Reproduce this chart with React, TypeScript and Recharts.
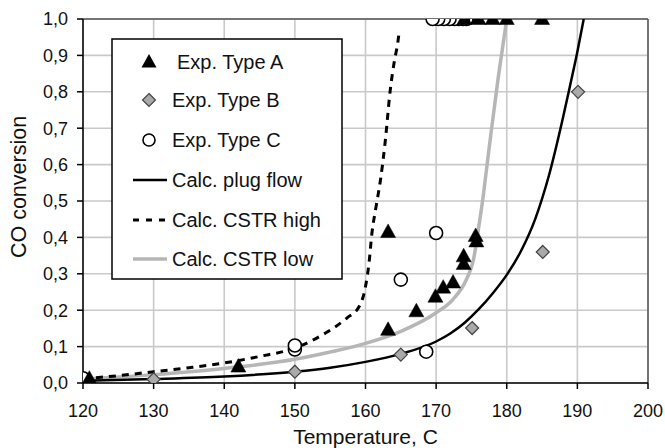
import React from 'react';
import {
  ComposedChart,
  Line,
  Scatter,
  XAxis,
  YAxis,
  CartesianGrid,
  Legend,
  ReferenceLine,
  Label,
} from 'recharts';

const xTicks = [120, 130, 140, 150, 160, 170, 180, 190, 200];
const yTicks = [0, 0.1, 0.2, 0.3, 0.4, 0.5, 0.6, 0.7, 0.8, 0.9, 1.0];

const expTypeA = [
  { t: 120.9, c: 0.012 },
  { t: 142.0, c: 0.045 },
  { t: 163.2, c: 0.146 },
  { t: 163.2, c: 0.415 },
  { t: 167.2, c: 0.197 },
  { t: 169.9, c: 0.237 },
  { t: 171.0, c: 0.262 },
  { t: 172.4, c: 0.276 },
  { t: 173.9, c: 0.327 },
  { t: 173.9, c: 0.348 },
  { t: 175.7, c: 0.389 },
  { t: 175.6, c: 0.404 },
  { t: 174.0, c: 1.0 },
  { t: 176.0, c: 1.0 },
  { t: 178.0, c: 1.0 },
  { t: 180.0, c: 1.0 },
  { t: 185.0, c: 1.0 },
];

const expTypeB = [
  { t: 130.0, c: 0.01 },
  { t: 150.0, c: 0.031 },
  { t: 165.0, c: 0.078 },
  { t: 175.1, c: 0.151 },
  { t: 185.1, c: 0.36 },
  { t: 190.1, c: 0.8 },
];

const expTypeC = [
  { t: 120.0, c: 0.013 },
  { t: 150.0, c: 0.092 },
  { t: 150.0, c: 0.103 },
  { t: 165.0, c: 0.284 },
  { t: 168.6, c: 0.086 },
  { t: 170.0, c: 0.412 },
  { t: 174.3, c: 1.0 },
  { t: 173.8, c: 1.0 },
  { t: 173.2, c: 1.0 },
  { t: 172.6, c: 1.0 },
  { t: 171.9, c: 1.0 },
  { t: 171.1, c: 1.0 },
  { t: 170.3, c: 1.0 },
  { t: 169.5, c: 1.0 },
];

const calcPlugFlow = [
  { t: 120, c: 0.006 },
  { t: 130, c: 0.011 },
  { t: 140, c: 0.018 },
  { t: 150, c: 0.031 },
  { t: 155, c: 0.042 },
  { t: 160, c: 0.058 },
  { t: 165, c: 0.08 },
  { t: 170, c: 0.114 },
  { t: 172, c: 0.136 },
  { t: 174, c: 0.165 },
  { t: 176, c: 0.202 },
  { t: 178, c: 0.246 },
  { t: 180, c: 0.297 },
  { t: 182, c: 0.362 },
  { t: 184, c: 0.449 },
  { t: 186, c: 0.572 },
  { t: 188, c: 0.732 },
  { t: 189, c: 0.82 },
  { t: 190, c: 0.91 },
  { t: 190.9, c: 1.0 },
];

const calcCstrHigh = [
  { t: 120, c: 0.012 },
  { t: 125, c: 0.02 },
  { t: 130, c: 0.031 },
  { t: 135, c: 0.042 },
  { t: 140, c: 0.055 },
  { t: 145, c: 0.073 },
  { t: 150, c: 0.096 },
  { t: 154.4, c: 0.138 },
  { t: 157.4, c: 0.179 },
  { t: 159.1, c: 0.21 },
  { t: 160, c: 0.265 },
  { t: 160.5, c: 0.33 },
  { t: 160.9, c: 0.41 },
  { t: 161.5, c: 0.485 },
  { t: 162.1, c: 0.555 },
  { t: 162.8, c: 0.665 },
  { t: 163.5, c: 0.804 },
  { t: 164.1, c: 0.886 },
  { t: 164.55, c: 0.932 },
  { t: 164.8, c: 0.97 },
];

const calcCstrLow = [
  { t: 120, c: 0.011 },
  { t: 130, c: 0.023 },
  { t: 140, c: 0.04 },
  { t: 150, c: 0.065 },
  { t: 155, c: 0.085 },
  { t: 160, c: 0.109 },
  { t: 165, c: 0.142 },
  { t: 170, c: 0.193 },
  { t: 172.4, c: 0.23 },
  { t: 174.3, c: 0.285 },
  { t: 175.3, c: 0.34 },
  { t: 176.0, c: 0.424 },
  { t: 176.5, c: 0.49 },
  { t: 177.6, c: 0.66 },
  { t: 178.8, c: 0.84 },
  { t: 180.0, c: 1.0 },
];

const legendLabels = [
  'Exp. Type A',
  'Exp. Type B',
  'Exp. Type C',
  'Calc. plug flow',
  'Calc. CSTR high',
  'Calc. CSTR low',
];

const FONT = 'Arial, "Liberation Sans", Helvetica, sans-serif';
const GRAY_FILL = '#a9a9a9';
const LOW_GRAY = '#b6b6b6';

const TriangleShape = (p: any) => {
  const { cx, cy } = p;
  if (cx == null || cy == null) return null;
  return (
    <polygon
      points={`${cx},${cy - 8} ${cx - 7.5},${cy + 5.5} ${cx + 7.5},${cy + 5.5}`}
      fill="#000"
      stroke="#000"
      strokeWidth={0.5}
    />
  );
};

const DiamondShape = (p: any) => {
  const { cx, cy } = p;
  if (cx == null || cy == null) return null;
  const h = 6.5;
  return (
    <polygon
      points={`${cx},${cy - h} ${cx + h},${cy} ${cx},${cy + h} ${cx - h},${cy}`}
      fill={GRAY_FILL}
      stroke="#444"
      strokeWidth={1.2}
    />
  );
};

const CircleShape = (p: any) => {
  const { cx, cy } = p;
  if (cx == null || cy == null) return null;
  return <circle cx={cx} cy={cy} r={6.5} fill="#fff" stroke="#000" strokeWidth={1.6} />;
};

const LegendBox = () => {
  const rows = [24, 62, 102, 142, 182, 221];
  const mx = 38;
  return (
    <svg width={232} height={243} style={{ display: 'block' }}>
      <rect x={1} y={1} width={230} height={240} fill="#fff" stroke="#000" strokeWidth={1.5} />
      <polygon
        points={`${mx},${rows[0] - 8} ${mx - 7.5},${rows[0] + 5.5} ${mx + 7.5},${rows[0] + 5.5}`}
        fill="#000"
      />
      <polygon
        points={`${mx},${rows[1] - 6.5} ${mx + 6.5},${rows[1]} ${mx},${rows[1] + 6.5} ${mx - 6.5},${rows[1]}`}
        fill={GRAY_FILL}
        stroke="#444"
        strokeWidth={1.2}
      />
      <circle cx={mx} cy={rows[2]} r={6} fill="#fff" stroke="#000" strokeWidth={1.6} />
      <line x1={22} x2={56} y1={rows[3]} y2={rows[3]} stroke="#000" strokeWidth={2.5} />
      <line
        x1={22}
        x2={56}
        y1={rows[4]}
        y2={rows[4]}
        stroke="#000"
        strokeWidth={3}
        strokeDasharray="6 7"
      />
      <line x1={22} x2={56} y1={rows[5]} y2={rows[5]} stroke={LOW_GRAY} strokeWidth={3.5} />
      {legendLabels.map((l, i) => (
        <text
          key={l}
          x={i === 0 ? 66 : 61}
          y={rows[i] + 7}
          fontSize={20}
          fontFamily={FONT}
          fill="#111"
        >
          {l}
        </text>
      ))}
    </svg>
  );
};

const fmt = (v: number) => v.toFixed(1).replace('.', ',');

export default function App() {
  return (
    <div style={{ position: 'absolute', left: 0, top: 0, width: 665, height: 448, background: '#fff' }}>
      <ComposedChart
        width={665}
        height={448}
        margin={{ top: 19, right: 17, bottom: 0, left: 0 }}
        style={{ fontFamily: FONT }}
      >
        <CartesianGrid stroke="#c9c9c9" strokeWidth={1.6} />
        <XAxis
          type="number"
          dataKey="t"
          domain={[120, 200]}
          ticks={xTicks}
          interval={0}
          height={65}
          tick={{ fontSize: 18, fill: '#111', fontFamily: FONT }}
          tickMargin={15}
          tickSize={6}
          stroke="#000"
          axisLine={{ stroke: '#000', strokeWidth: 1.5 }}
          tickLine={{ stroke: '#000', strokeWidth: 1.5 }}
          allowDataOverflow
        >
          <Label
            value="Temperature, C"
            position="insideBottom"
            offset={4}
            style={{ fontSize: 21, fill: '#111', fontFamily: FONT }}
          />
        </XAxis>
        <YAxis
          type="number"
          dataKey="c"
          domain={[0, 1]}
          ticks={yTicks}
          interval={0}
          width={83}
          tickFormatter={fmt}
          tick={{ fontSize: 18, fill: '#111', fontFamily: FONT }}
          tickMargin={9}
          tickSize={6}
          axisLine={{ stroke: '#000', strokeWidth: 1.5 }}
          tickLine={{ stroke: '#000', strokeWidth: 1.5 }}
          allowDataOverflow
        >
          <Label
            content={() => (
              <text
                x={19}
                y={187}
                transform="rotate(-90 19 187)"
                textAnchor="middle"
                dominantBaseline="central"
                fontSize={21.5}
                fontFamily={FONT}
                fill="#111"
              >
                CO conversion
              </text>
            )}
          />
        </YAxis>
        <ReferenceLine y={1} stroke="#555" strokeWidth={1.5} ifOverflow="visible" />
        <ReferenceLine x={200} stroke="#555" strokeWidth={1.5} ifOverflow="visible" />
        <Legend
          layout="vertical"
          align="center"
          verticalAlign="middle"
          content={() => <LegendBox />}
          wrapperStyle={{ position: 'absolute', left: 111, top: 38, width: 232, height: 243 }}
        />
        <Line
          data={calcCstrLow}
          dataKey="c"
          type="monotone"
          stroke={LOW_GRAY}
          strokeWidth={3.5}
          dot={false}
          activeDot={false}
          isAnimationActive={false}
          legendType="none"
        />
        <Line
          data={calcPlugFlow}
          dataKey="c"
          type="monotone"
          stroke="#000"
          strokeWidth={2.5}
          dot={false}
          activeDot={false}
          isAnimationActive={false}
          legendType="none"
        />
        <Line
          data={calcCstrHigh}
          dataKey="c"
          type="monotone"
          stroke="#000"
          strokeWidth={3}
          strokeDasharray="7 6"
          dot={false}
          activeDot={false}
          isAnimationActive={false}
          legendType="none"
        />
        <Scatter data={expTypeB} dataKey="c" shape={DiamondShape} isAnimationActive={false} />
        <Scatter data={expTypeC} dataKey="c" shape={CircleShape} isAnimationActive={false} />
        <Scatter data={expTypeA} dataKey="c" shape={TriangleShape} isAnimationActive={false} />
      </ComposedChart>
    </div>
  );
}
